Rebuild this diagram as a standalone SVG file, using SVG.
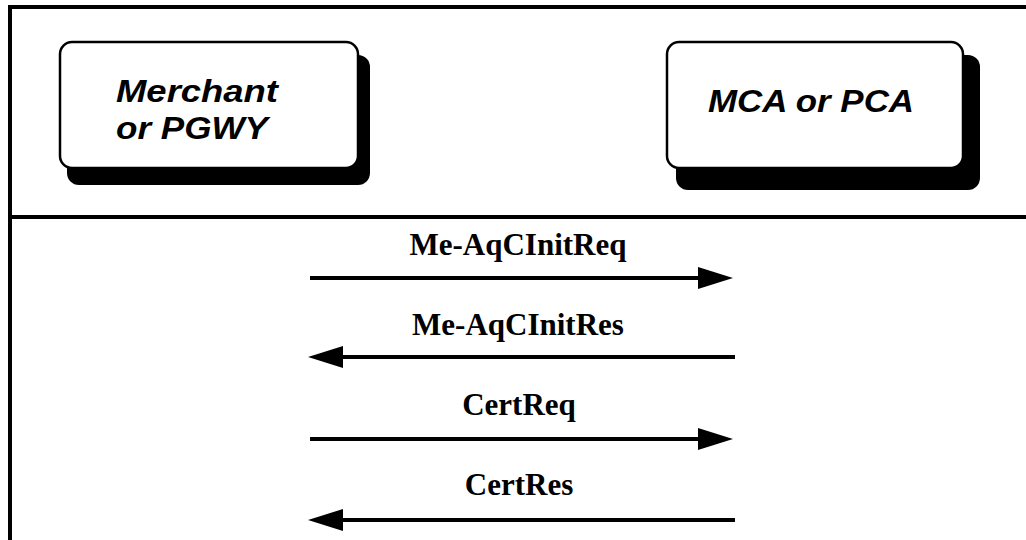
<svg xmlns="http://www.w3.org/2000/svg" width="1026" height="540" viewBox="0 0 1026 540">
  <style>
    .frame { stroke: #000; stroke-width: 4; fill: none; }
    .shadow { fill: #000; }
    .box { fill: #fff; stroke: #000; stroke-width: 2.5; }
    .node-text { font-family: "Liberation Sans", Arial, sans-serif; font-weight: bold; font-style: italic; font-size: 32px; fill: #000; }
    .msg { stroke: #000; stroke-width: 4; fill: none; marker-end: url(#head); }
    .msg-label { font-family: "Liberation Serif", "Times New Roman", serif; font-weight: bold; font-size: 31px; fill: #000; text-anchor: middle; }
  </style>
  <defs>
    <marker id="head" markerUnits="userSpaceOnUse" markerWidth="36" markerHeight="24" refX="0" refY="11" orient="auto">
      <path d="M0,0 L35,11 L0,22 Z" fill="#000"/>
    </marker>
  </defs>

  <rect width="1026" height="540" fill="#fff"/>

  <!-- outer frame: top rule, left rule, and the divider under the headers -->
  <g id="frame">
    <line class="frame" x1="8" y1="7" x2="1026" y2="7"/>
    <line class="frame" x1="10" y1="5" x2="10" y2="540"/>
    <line class="frame" x1="10" y1="217" x2="1026" y2="217"/>
  </g>

  <g id="merchant">
    <rect class="shadow" x="67" y="55" width="303" height="130" rx="12"/>
    <rect class="box" x="60" y="42" width="298" height="126" rx="12"/>
    <text class="node-text" x="116" y="102" textLength="162" lengthAdjust="spacingAndGlyphs">Merchant</text>
    <text class="node-text" x="116" y="139" textLength="152" lengthAdjust="spacingAndGlyphs">or PGWY</text>
  </g>

  <g id="mca">
    <rect class="shadow" x="676" y="55" width="304" height="135" rx="12"/>
    <rect class="box" x="667" y="42" width="296" height="126" rx="12"/>
    <text class="node-text" x="708" y="112" textLength="206" lengthAdjust="spacingAndGlyphs">MCA or PCA</text>
  </g>

  <g id="connectors">
    <line class="msg" x1="310" y1="278" x2="698" y2="278"/>
    <line class="msg" x1="735" y1="357" x2="343" y2="357"/>
    <line class="msg" x1="310" y1="439" x2="698" y2="439"/>
    <line class="msg" x1="735" y1="520" x2="343" y2="520"/>
  </g>

  <g id="labels">
    <text class="msg-label" x="518" y="255">Me-AqCInitReq</text>
    <text class="msg-label" x="518" y="335">Me-AqCInitRes</text>
    <text class="msg-label" x="519" y="415">CertReq</text>
    <text class="msg-label" x="519" y="495">CertRes</text>
  </g>
</svg>
